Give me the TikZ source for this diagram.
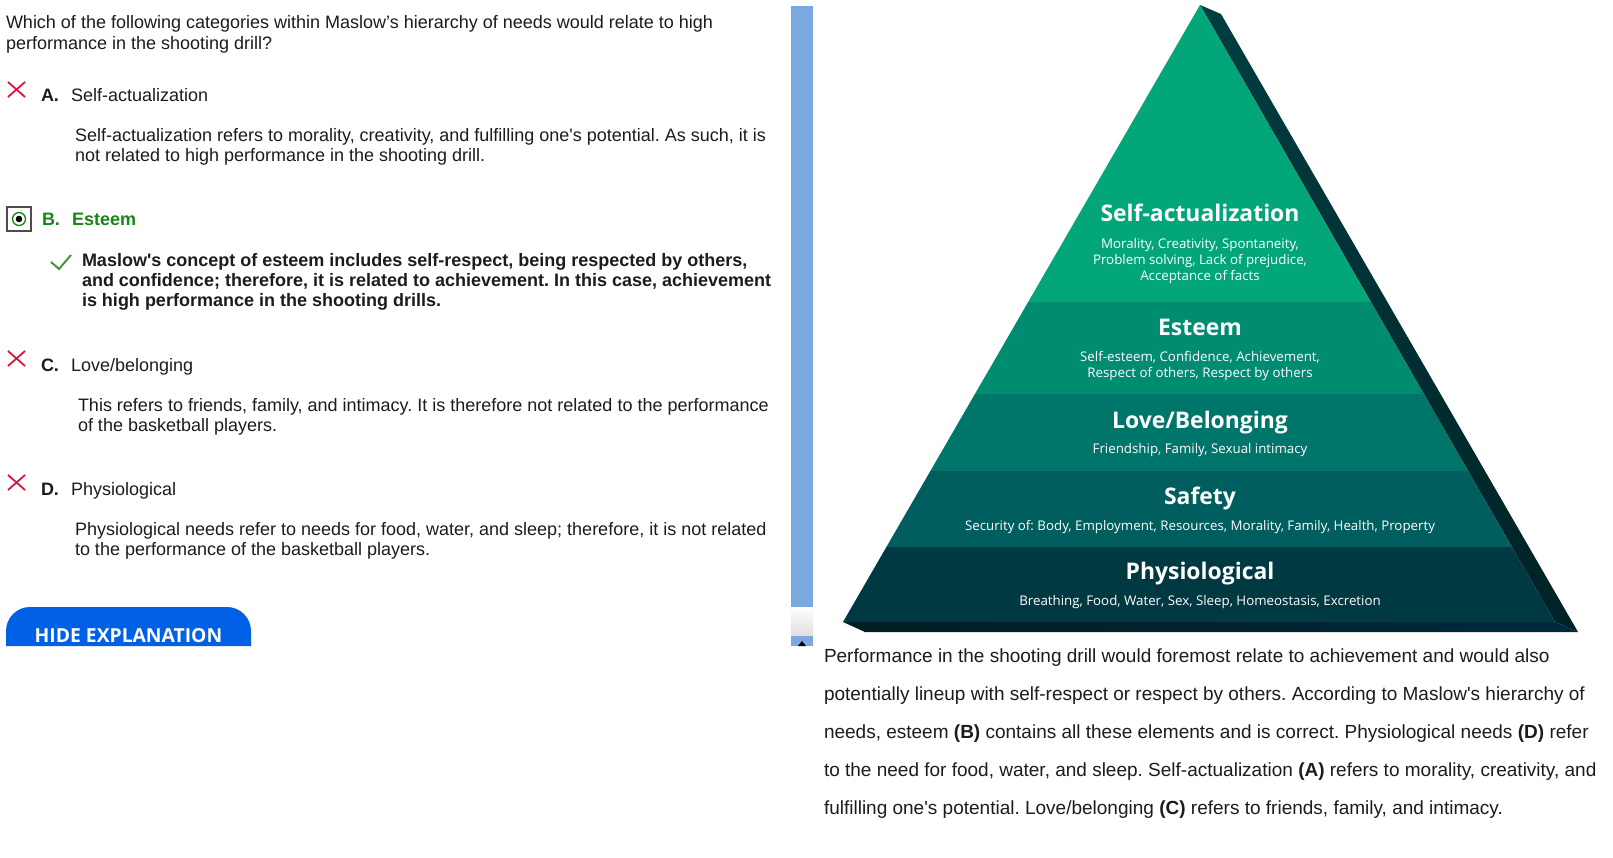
\documentclass[tikz,border=0pt]{standalone}
\usepackage{fontspec}
\setmainfont{Liberation Sans}
\newfontfamily\osans{Open Sans}
\frenchspacing
\newcommand{\qapos}{\textquotesingle}
\definecolor{txt}{RGB}{28,28,28}
\definecolor{xred}{RGB}{222,18,60}
\definecolor{okgreen}{RGB}{22,134,22}
\definecolor{chkgreen}{RGB}{62,150,62}
\definecolor{btnblue}{RGB}{0,96,230}
\definecolor{sbar}{RGB}{124,168,224}
\definecolor{lvA}{RGB}{3,166,120}
\definecolor{lvB}{RGB}{0,140,112}
\definecolor{lvC}{RGB}{0,117,106}
\definecolor{lvD}{RGB}{0,94,94}
\definecolor{lvE}{RGB}{0,57,65}
\definecolor{sideTop}{RGB}{0,62,66}
\definecolor{sideBot}{RGB}{0,34,38}
\definecolor{stripL}{RGB}{0,30,32}
\definecolor{stripR}{RGB}{0,40,62}
\begin{document}
\begin{tikzpicture}[x=1pt,y=-1pt,
  every node/.style={inner sep=0pt,outer sep=0pt},
  body/.style={anchor=base west,text=txt,font=\fontsize{18}{20}\selectfont},
  bodyb/.style={body,font=\bfseries\fontsize{18}{20}\selectfont},
  para/.style={anchor=base west,text=txt,font=\fontsize{19}{21}\selectfont},
  ptitle/.style={anchor=base,text=white,font=\osans\bfseries\fontsize{22.9}{24}\selectfont},
  psub/.style={anchor=base,text=white,font=\osans\fontsize{13.3}{15}\selectfont},
  xmark/.style={draw=xred,line width=1.8pt},
]
\useasboundingbox (0,0) rectangle (1613,858);
\fill[white] (0,0) rectangle (1613,858);

% ---------------- left column ----------------
\node[body] (q1) at (6,29) {Which of the following categories within Maslow's hierarchy of needs would relate to high};
\node[body] (q2) at (6,50) {performance in the shooting drill?};

% A
\draw[xmark] (8,82) -- (25,97) (25,82) -- (8,97);
\node[bodyb] (aL) at (41,102) {A.};
\node[body] (aT) at (71,102) {Self-actualization};
\node[body] (a1) at (75,142) {Self-actualization refers to morality, creativity, and fulfilling one\qapos s potential. As such, it is};
\node[body] (a2) at (75,162) {not related to high performance in the shooting drill.};

% B
\draw[draw=black!70,line width=1.5pt] (7,207) rectangle (31,231);
\draw[draw=okgreen,line width=1.3pt] (19,219) circle (6.5);
\fill[black] (19,219) circle (3.3);
\node[bodyb,text=okgreen] (bL) at (42,226) {B.};
\node[bodyb,text=okgreen] (bT) at (72,226) {Esteem};
\draw[draw=chkgreen,line width=2pt] (51,262) -- (59,269) -- (71,255);
\node[bodyb] (b1) at (82,267) {Maslow\qapos s concept of esteem includes self-respect, being respected by others,};
\node[bodyb] (b2) at (82,287) {and confidence; therefore, it is related to achievement. In this case, achievement};
\node[bodyb] (b3) at (82,307) {is high performance in the shooting drills.};

% C
\draw[xmark] (8,351) -- (25,366) (25,351) -- (8,366);
\node[bodyb] (cL) at (41,371) {C.};
\node[body] (cT) at (71,371) {Love/belonging};
\node[body] (c1) at (78,411) {This refers to friends, family, and intimacy. It is therefore not related to the performance};
\node[body] (c2) at (78,431) {of the basketball players.};

% D
\draw[xmark] (8,475) -- (25,490) (25,475) -- (8,490);
\node[bodyb] (dL) at (41,495) {D.};
\node[body] (dT) at (71,495) {Physiological};
\node[body] (d1) at (75,535) {Physiological needs refer to needs for food, water, and sleep; therefore, it is not related};
\node[body] (d2) at (75,555) {to the performance of the basketball players.};

% button
\fill[btnblue] (6,646) [rounded corners=24pt] -- (6,607) -- (251,607) [sharp corners] -- (251,646) -- cycle;
\node[anchor=base,text=white,font=\osans\bfseries\fontsize{19.3}{20}\selectfont] (btn) at (128.5,642) {HIDE EXPLANATION};

% ---------------- scrollbar ----------------
\fill[sbar] (791,6) rectangle (813,607);
\shade[top color=white,bottom color=black!12] (791,607) rectangle (813,635);
\fill[sbar] (791,636) rectangle (813,646);
\fill[black] (802,641) -- (806,646) -- (798,646) -- cycle;

% ---------------- pyramid ----------------
\coordinate (apex) at (1200,5);
\coordinate (bl) at (843,622);
\coordinate (br) at (1555,622);
\coordinate (rt) at (1221,14);
\coordinate (rb) at (1578,632);
\coordinate (lb) at (865,632);
\shade[top color=sideTop,bottom color=sideBot] (apex) -- (rt) -- (rb) -- (br) -- cycle;
\shade[left color=stripL,right color=stripR] (bl) -- (br) -- (rb) -- (lb) -- cycle;
\begin{scope}
\clip (apex) -- (br) -- (bl) -- cycle;
\fill[lvA] (830,0) rectangle (1570,302);
\fill[lvB] (830,302) rectangle (1570,394);
\fill[lvC] (830,394) rectangle (1570,471);
\fill[lvD] (830,471) rectangle (1570,547);
\fill[lvE] (830,547) rectangle (1570,623);
\end{scope}

\node[ptitle] (t1) at (1200,222) {Self-actualization};
\node[psub] (s1a) at (1200,249) {Morality, Creativity, Spontaneity,};
\node[psub] (s1b) at (1200,265) {Problem solving, Lack of prejudice,};
\node[psub] (s1c) at (1200,281) {Acceptance of facts};
\node[ptitle] (t2) at (1200,335) {Esteem};
\node[psub] (s2a) at (1200,361) {Self-esteem, Confidence, Achievement,};
\node[psub] (s2b) at (1200,377) {Respect of others, Respect by others};
\node[ptitle] (t3) at (1200,428) {Love/Belonging};
\node[psub] (s3) at (1200,453) {Friendship, Family, Sexual intimacy};
\node[ptitle] (t4) at (1200,504) {Safety};
\node[psub] (s4) at (1200,530) {Security of: Body, Employment, Resources, Morality, Family, Health, Property};
\node[ptitle] (t5) at (1200,579) {Physiological};
\node[psub] (s5) at (1200,605) {Breathing, Food, Water, Sex, Sleep, Homeostasis, Excretion};

% ---------------- right paragraph ----------------
\node[para] (p1) at (824,662) {Performance in the shooting drill would foremost relate to achievement and would also};
\node[para] (p2) at (824,700) {potentially lineup with self-respect or respect by others. According to Maslow\qapos s hierarchy of};
\node[para] (p3) at (824,738) {needs, esteem \textbf{(B)} contains all these elements and is correct. Physiological needs \textbf{(D)} refer};
\node[para] (p4) at (824,776) {to the need for food, water, and sleep. Self-actualization \textbf{(A)} refers to morality, creativity, and};
\node[para] (p5) at (824,814) {fulfilling one\qapos s potential. Love/belonging \textbf{(C)} refers to friends, family, and intimacy.};
\end{tikzpicture}
\end{document}
